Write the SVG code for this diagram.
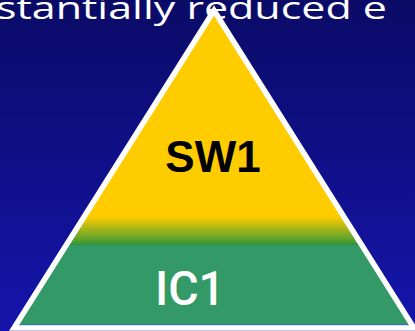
<svg xmlns="http://www.w3.org/2000/svg" width="415" height="331" viewBox="0 0 415 331">
  <style>
    .title { font-family: "Open Sans", "Liberation Sans", sans-serif; font-weight: 400; font-size: 31px; fill: #ffffff; }
    .lbl-top { font-family: "Liberation Sans", Arial, sans-serif; font-weight: bold; font-size: 44px; fill: #000000; }
    .lbl-base { font-family: Roboto, "Liberation Sans", sans-serif; font-weight: 500; font-size: 48px; fill: #ffffff; }
    .edge { fill: none; stroke: #ffffff; stroke-width: 5.5; stroke-linejoin: miter; stroke-miterlimit: 10; }
  </style>
  <defs>
    <linearGradient id="bg" gradientUnits="userSpaceOnUse" x1="0" y1="0" x2="0" y2="331">
      <stop offset="0" stop-color="#0a0b66"/>
      <stop offset="1" stop-color="#1515ad"/>
    </linearGradient>
    <linearGradient id="pyr" gradientUnits="userSpaceOnUse" x1="0" y1="0" x2="0" y2="331">
      <stop offset="0" stop-color="#ffcc00"/>
      <stop offset="0.655" stop-color="#ffcc00"/>
      <stop offset="0.735" stop-color="#3f9a35"/>
      <stop offset="0.738" stop-color="#2f8d45"/>
      <stop offset="0.742" stop-color="#339966"/>
      <stop offset="1" stop-color="#339966"/>
    </linearGradient>
  </defs>

  <!-- background -->
  <rect x="0" y="0" width="415" height="331" fill="url(#bg)"/>

  <!-- slide title, running off both edges -->
  <text class="title" x="-4" y="19" textLength="391" lengthAdjust="spacingAndGlyphs">stantially reduced e</text>

  <!-- pyramid -->
  <g id="pyramid">
    <polygon points="214,10.5 14,328 414,328" fill="url(#pyr)"/>
    <line x1="18" y1="324.5" x2="410" y2="324.5" stroke="#4466cc" stroke-width="1"/>
    <polygon class="edge" points="214,10.5 14,328 414,328"/>
  </g>

  <g id="sw1">
    <text class="lbl-top" x="213" y="172" text-anchor="middle">SW1</text>
  </g>

  <g id="ic1">
    <text class="lbl-base" x="155" y="305" textLength="70" lengthAdjust="spacingAndGlyphs">IC1</text>
  </g>
</svg>
